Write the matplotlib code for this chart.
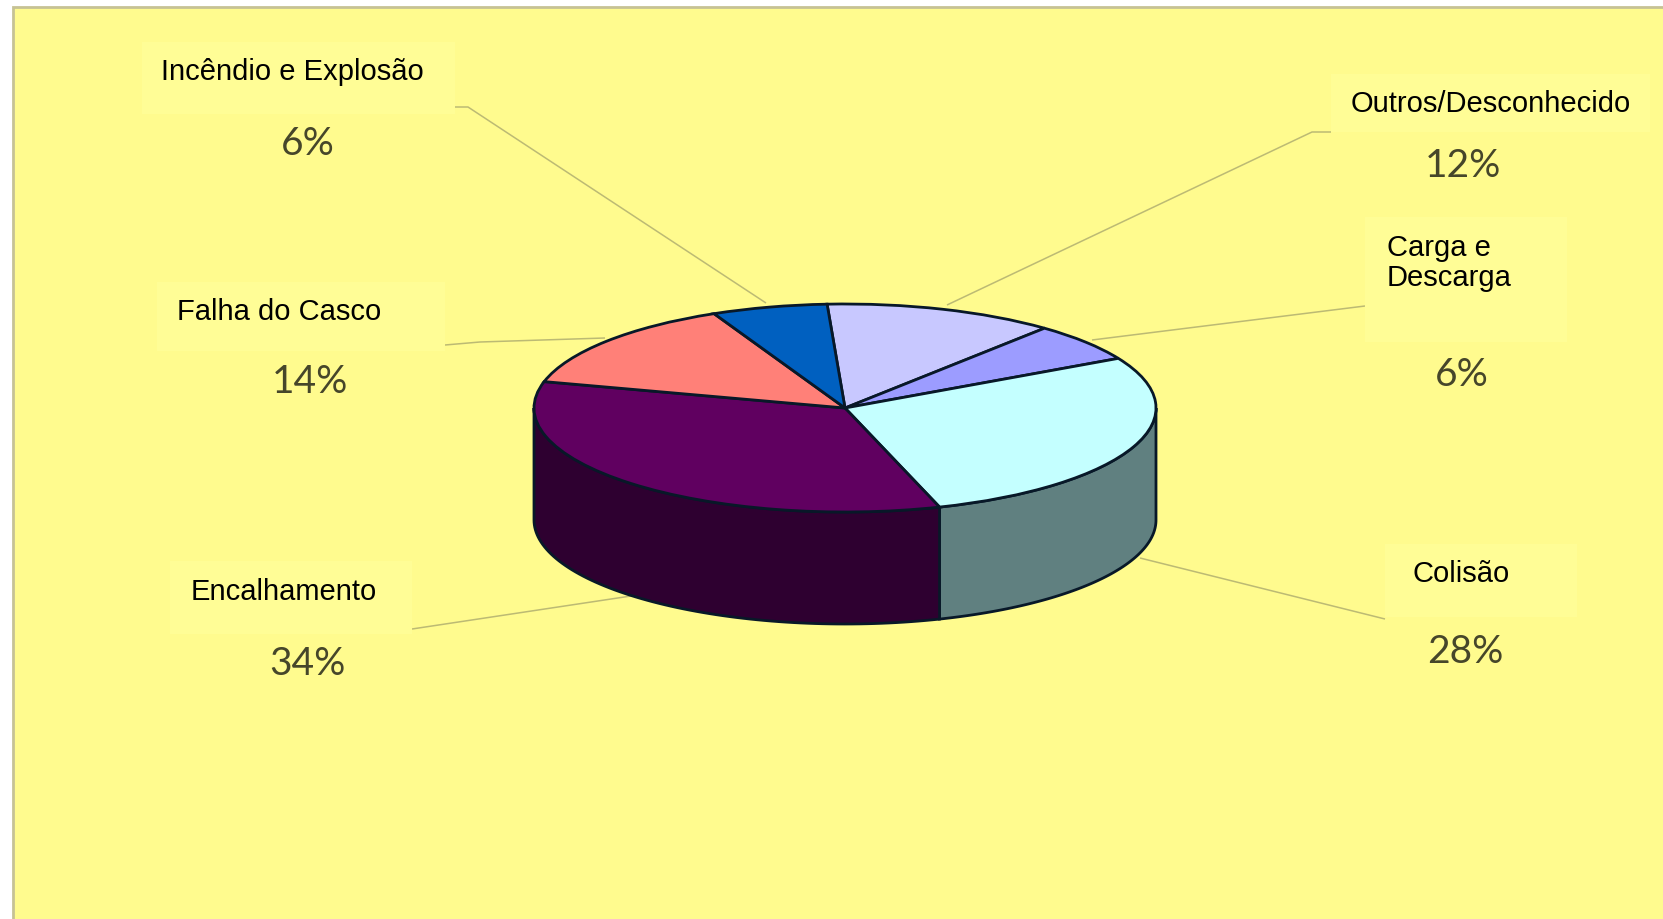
import numpy as np
import matplotlib
matplotlib.use("Agg")
import matplotlib.pyplot as plt
from matplotlib.patches import Rectangle, Polygon

# Shares of accident causes, clockwise from the top of the pie
causes = ["Outros/Desconhecido", "Carga e\nDescarga", "Colisão",
          "Encalhamento", "Falha do Casco", "Incêndio e Explosão"]
shares = [12, 6, 28, 34, 14, 6]
share_labels = ["12%", "6%", "28%", "34%", "14%", "6%"]
top_colors = ["#c8c8ff", "#9c9cff", "#c4ffff", "#600060", "#ff8078", "#0060c0"]
side_colors = ["#646496", "#4e4e80", "#608080", "#2e0030", "#804040", "#003060"]

W, H = 1663, 920
CX, CY = 845.0, 409.0     # centre of the pie's top face
RX, RY = 311.0, 104.0     # radii of the squashed top face
DEPTH = 112.0             # height of the wall
START = 93.3              # angle of the first slice edge

# label box (x0, y0, x1, y1), text anchor, percent anchor, leader line
box_px = [(1331, 75, 1650, 133), (1365, 218, 1567, 343), (1385, 545, 1577, 618),
          (170, 562, 412, 635), (157, 283, 445, 352), (142, 43, 455, 115)]
text_px = [(1351, 104), (1387, 263), (1413, 574), (191, 592), (177, 312), (161, 72)]
pct_px = [(1463, 166), (1462, 375), (1465, 652), (307, 664), (310, 382), (308, 144)]
leaders = [[(1331, 133), (1312, 133), (947, 306)],
           [(1365, 307), (1092, 341)],
           [(1385, 620), (1140, 559)],
           [(412, 630), (631, 597)],
           [(445, 346), (480, 343), (605, 339)],
           [(455, 108), (468, 108), (766, 304)]]

fig = plt.figure(figsize=(W / 100, H / 100), dpi=100, facecolor="white")

# Overlay axes in pixel units for the panel, boxes and text
page = fig.add_axes([0, 0, 1, 1], zorder=1)
page.set_xlim(0, W)
page.set_ylim(H, 0)
page.axis("off")
page.add_patch(Rectangle((13, 8), W, H, facecolor="#fffb8e",
                         edgecolor="#c6c294", linewidth=2))
for line in leaders:
    xs, ys = zip(*line)
    page.plot(xs, ys, color="#bcba74", linewidth=1.1, solid_capstyle="butt")

# Pie axes scaled so that one data unit equals the radius along each direction
pie_ax = fig.add_axes([0, 0, 1, 1], zorder=2)
pie_ax.patch.set_alpha(0)
pie_ax.pie(shares, colors=top_colors, startangle=START, counterclock=False,
           radius=1, center=(0, 0),
           wedgeprops=dict(edgecolor="#081828", linewidth=2, zorder=3))

# Front wall: only the lower half of the rim is visible
edges = START - np.cumsum([0] + shares) * 3.6
drop = DEPTH / RY
for i in range(len(shares)):
    hi, lo = edges[i], edges[i + 1]
    hi2, lo2 = min(hi, 0.0), max(lo, -180.0)
    if hi2 <= lo2:
        continue
    t = np.radians(np.linspace(hi2, lo2, 80))
    upper = np.column_stack([np.cos(t), np.sin(t)])
    lower = upper[::-1] - [0, drop]
    pie_ax.add_patch(Polygon(np.vstack([upper, lower]), closed=True,
                             facecolor=side_colors[i], edgecolor="#081828",
                             linewidth=2, zorder=2))
pie_ax.set_aspect("auto")
pie_ax.set_xlim(-CX / RX, (W - CX) / RX)
pie_ax.set_ylim((CY - H) / RY, CY / RY)
pie_ax.axis("off")

# Labels sit above the leaders but the boxes never reach the pie
labels = fig.add_axes([0, 0, 1, 1], zorder=3)
labels.patch.set_alpha(0)
labels.set_xlim(0, W)
labels.set_ylim(H, 0)
labels.axis("off")
for i, cause in enumerate(causes):
    x0, y0, x1, y1 = box_px[i]
    labels.add_patch(Rectangle((x0, y0), x1 - x0, y1 - y0,
                               facecolor="#fffd96", edgecolor="none"))
    labels.text(*text_px[i], cause, family="Liberation Sans", fontsize=21,
                color="black", ha="left", va="center", linespacing=1.12)
    labels.text(*pct_px[i], share_labels[i], family="Lato",
                fontsize=28, color="#46462a", ha="center", va="center")

fig.savefig("out.png", dpi=100, facecolor="white")
